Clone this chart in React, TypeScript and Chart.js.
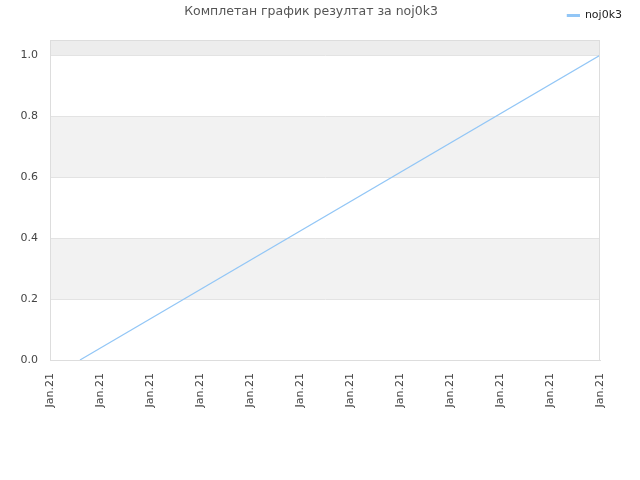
import { useEffect, useRef } from 'react';
import { Chart, registerables } from 'chart.js';

Chart.register(...registerables);

// data
const chartTitle = 'Комплетан график резултат за noj0k3';
const seriesName = 'noj0k3';
const xPositions = [0.6, 11];
const seriesValues = [0, 1];
const xTickLabels = [
  'Jan.21', 'Jan.21', 'Jan.21', 'Jan.21', 'Jan.21', 'Jan.21',
  'Jan.21', 'Jan.21', 'Jan.21', 'Jan.21', 'Jan.21', 'Jan.21',
];
const yTickValues = [0, 0.2, 0.4, 0.6, 0.8, 1.0];

const FONT = '"DejaVu Sans", sans-serif';

// alternating background bands + frame around the plot
const bandsPlugin = {
  id: 'bands',
  beforeDraw(chart: any) {
    const { ctx, chartArea, scales } = chart;
    const y = scales.y;
    const edges = [...yTickValues, y.max];
    const colors = ['#ffffff', '#f2f2f2', '#ffffff', '#f2f2f2', '#ffffff', '#ededed'];
    ctx.save();
    for (let i = 0; i < edges.length - 1; i++) {
      const top = y.getPixelForValue(edges[i + 1]);
      const bottom = y.getPixelForValue(edges[i]);
      ctx.fillStyle = colors[i % colors.length];
      ctx.fillRect(chartArea.left, top, chartArea.right - chartArea.left, bottom - top);
    }
    ctx.restore();
  },
  afterDatasetsDraw(chart: any) {
    const { ctx, chartArea } = chart;
    ctx.save();
    ctx.strokeStyle = '#dddddd';
    ctx.lineWidth = 1;
    ctx.strokeRect(chartArea.left + 0.5, chartArea.top + 0.5,
      chartArea.right - chartArea.left - 1, chartArea.bottom - chartArea.top);
    ctx.restore();
  },
};

// title drawn on the same row as the legend
const titlePlugin = {
  id: 'rowTitle',
  afterDraw(chart: any) {
    const { ctx } = chart;
    ctx.save();
    ctx.font = '12.5px ' + FONT;
    ctx.fillStyle = '#555555';
    ctx.textAlign = 'center';
    ctx.textBaseline = 'middle';
    ctx.fillText(chartTitle, 311, 12);
    ctx.restore();
  },
};

// empty axis used only to reserve space
const spacer = (position: string, size: number) => ({
  type: 'linear' as const,
  position,
  display: true,
  grid: { display: false, drawTicks: false },
  border: { display: false },
  ticks: { display: false },
  afterFit: (scale: any) => {
    if (position === 'top' || position === 'bottom') scale.height = size;
    else scale.width = size;
  },
});

const App = () => {
  const canvasRef = useRef<HTMLCanvasElement>(null);
  const chartRef = useRef<Chart | null>(null);

  useEffect(() => {
    document.body.style.margin = '0';
    const ctx = canvasRef.current?.getContext('2d');
    if (!ctx) return;
    if (chartRef.current) chartRef.current.destroy();

    chartRef.current = new Chart(ctx, {
      type: 'line',
      data: {
        datasets: [{
          label: seriesName,
          data: xPositions.map((x, i) => ({ x, y: seriesValues[i] })),
          xAxisID: 'x',
          yAxisID: 'y',
          borderColor: '#92c6f6',
          backgroundColor: '#92c6f6',
          borderWidth: 1.2,
          pointRadius: 0,
          tension: 0,
        }],
      },
      plugins: [bandsPlugin, titlePlugin],
      options: {
        responsive: false,
        animation: false,
        layout: { padding: { left: 0, right: 8, top: 0, bottom: 0 } },
        plugins: {
          title: { display: false },
          tooltip: { enabled: false },
          legend: {
            display: true,
            position: 'top',
            align: 'end',
            labels: {
              boxWidth: 12,
              boxHeight: 2,
              color: '#222222',
              font: { family: FONT, size: 11 },
              padding: 10,
            },
          },
        },
        scales: {
          x: {
            type: 'linear',
            min: 0,
            max: xTickLabels.length - 1,
            afterBuildTicks: (scale: any) => {
              scale.ticks = xTickLabels.map((_, i) => ({ value: i }));
            },
            afterFit: (scale: any) => { scale.height = 120; },
            grid: { display: false, drawTicks: false },
            border: { display: true, color: '#dddddd' },
            ticks: {
              autoSkip: false,
              minRotation: 90,
              maxRotation: 90,
              padding: 13,
              color: '#444444',
              font: { family: FONT, size: 11 },
              callback: (_v: any, i: number) => xTickLabels[i],
            },
          },
          y: {
            min: 0,
            max: 1.05,
            afterBuildTicks: (scale: any) => {
              scale.ticks = yTickValues.map(v => ({ value: v }));
            },
            afterFit: (scale: any) => { scale.width = 50; },
            grid: { color: '#e3e3e3', drawTicks: false },
            border: { display: true, color: '#dddddd' },
            ticks: {
              padding: 12,
              color: '#444444',
              font: { family: FONT, size: 11 },
              callback: (v: any) => Number(v).toFixed(1),
            },
          },
          xTop: spacer('top', 9) as any,
          yRight: spacer('right', 32) as any,
        },
      },
    });

    return () => {
      if (chartRef.current) {
        chartRef.current.destroy();
        chartRef.current = null;
      }
    };
  }, []);

  return (
    <div style={{ width: 640, height: 480, background: '#ffffff' }}>
      <canvas ref={canvasRef} width={640} height={480}></canvas>
    </div>
  );
};

export default App;
